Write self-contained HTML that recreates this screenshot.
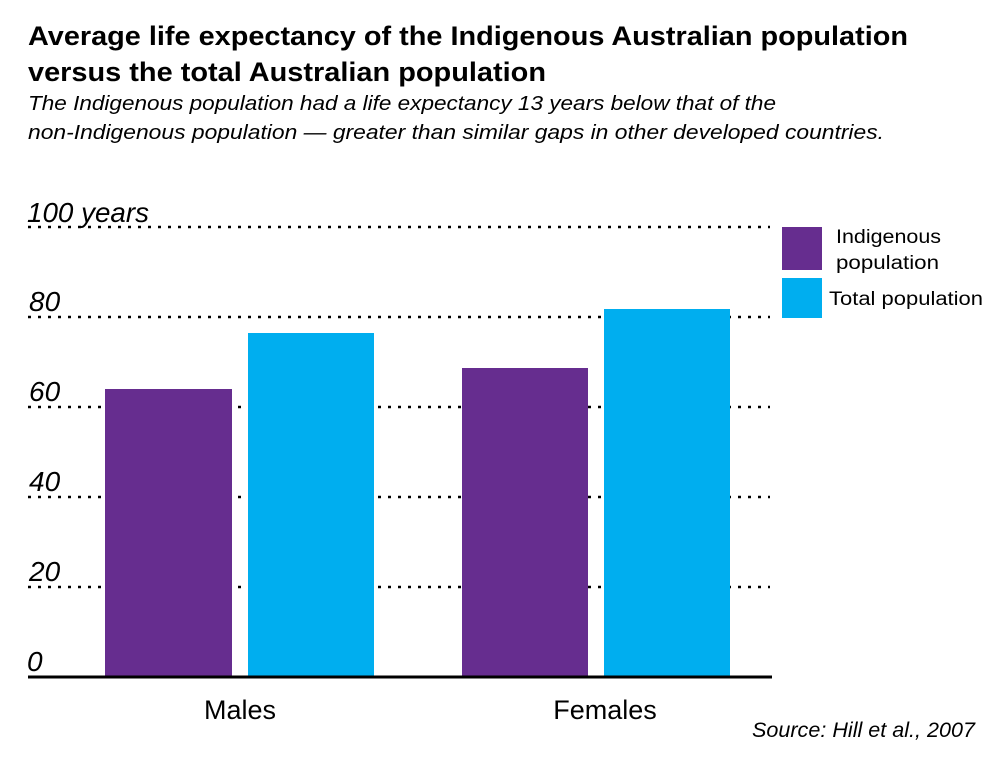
<!DOCTYPE html>
<html><head><meta charset="utf-8"><style>
body{margin:0;background:#fff;width:1000px;height:759px;overflow:hidden;font-family:"Liberation Sans",sans-serif}
</style></head><body>
<svg width="1000" height="759" xmlns="http://www.w3.org/2000/svg" font-family="Liberation Sans, sans-serif">
<text x="28" y="45" font-size="27" font-weight="bold" fill="#000" textLength="880" lengthAdjust="spacingAndGlyphs">Average life expectancy of the Indigenous Australian population</text>
<text x="28" y="81" font-size="27" font-weight="bold" fill="#000" textLength="518" lengthAdjust="spacingAndGlyphs">versus the total Australian population</text>
<text x="28" y="110" font-size="20" font-style="italic" fill="#000" textLength="748" lengthAdjust="spacingAndGlyphs">The Indigenous population had a life expectancy 13 years below that of the</text>
<text x="28" y="139" font-size="20" font-style="italic" fill="#000" textLength="856" lengthAdjust="spacingAndGlyphs">non-Indigenous population — greater than similar gaps in other developed countries.</text>
<g stroke="#000" stroke-width="2.5" stroke-dasharray="3 7">
<line x1="28" y1="227" x2="770" y2="227"/>
<line x1="28" y1="317" x2="770" y2="317"/>
<line x1="28" y1="407" x2="770" y2="407"/>
<line x1="28" y1="497" x2="770" y2="497"/>
<line x1="28" y1="587" x2="770" y2="587"/>
</g>
<g font-size="28" font-style="italic" fill="#000">
<text x="27" y="222" textLength="122" lengthAdjust="spacingAndGlyphs">100 years</text>
<text x="29" y="311">80</text>
<text x="29" y="401">60</text>
<text x="29" y="491">40</text>
<text x="29" y="581">20</text>
<text x="27" y="671">0</text>
</g>
<rect x="105" y="389" width="127" height="288" fill="#662d8f"/>
<rect x="248" y="333" width="126" height="344" fill="#00aeef"/>
<rect x="462" y="368" width="126" height="309" fill="#662d8f"/>
<rect x="604" y="309" width="126" height="368" fill="#00aeef"/>
<line x1="28" y1="677" x2="772" y2="677" stroke="#000" stroke-width="3"/>
<text x="240" y="719" font-size="27" text-anchor="middle">Males</text>
<text x="605" y="719" font-size="27" text-anchor="middle">Females</text>
<text x="752" y="737" font-size="21" font-style="italic" textLength="223" lengthAdjust="spacingAndGlyphs">Source: Hill et al., 2007</text>
<rect x="782" y="227" width="40" height="43" fill="#662d8f"/>
<rect x="782" y="278" width="40" height="40" fill="#00aeef"/>
<text x="836" y="243" font-size="19" textLength="105" lengthAdjust="spacingAndGlyphs">Indigenous</text>
<text x="836" y="269" font-size="19" textLength="103" lengthAdjust="spacingAndGlyphs">population</text>
<text x="829" y="305" font-size="19" textLength="154" lengthAdjust="spacingAndGlyphs">Total population</text>
</svg>
</body></html>
